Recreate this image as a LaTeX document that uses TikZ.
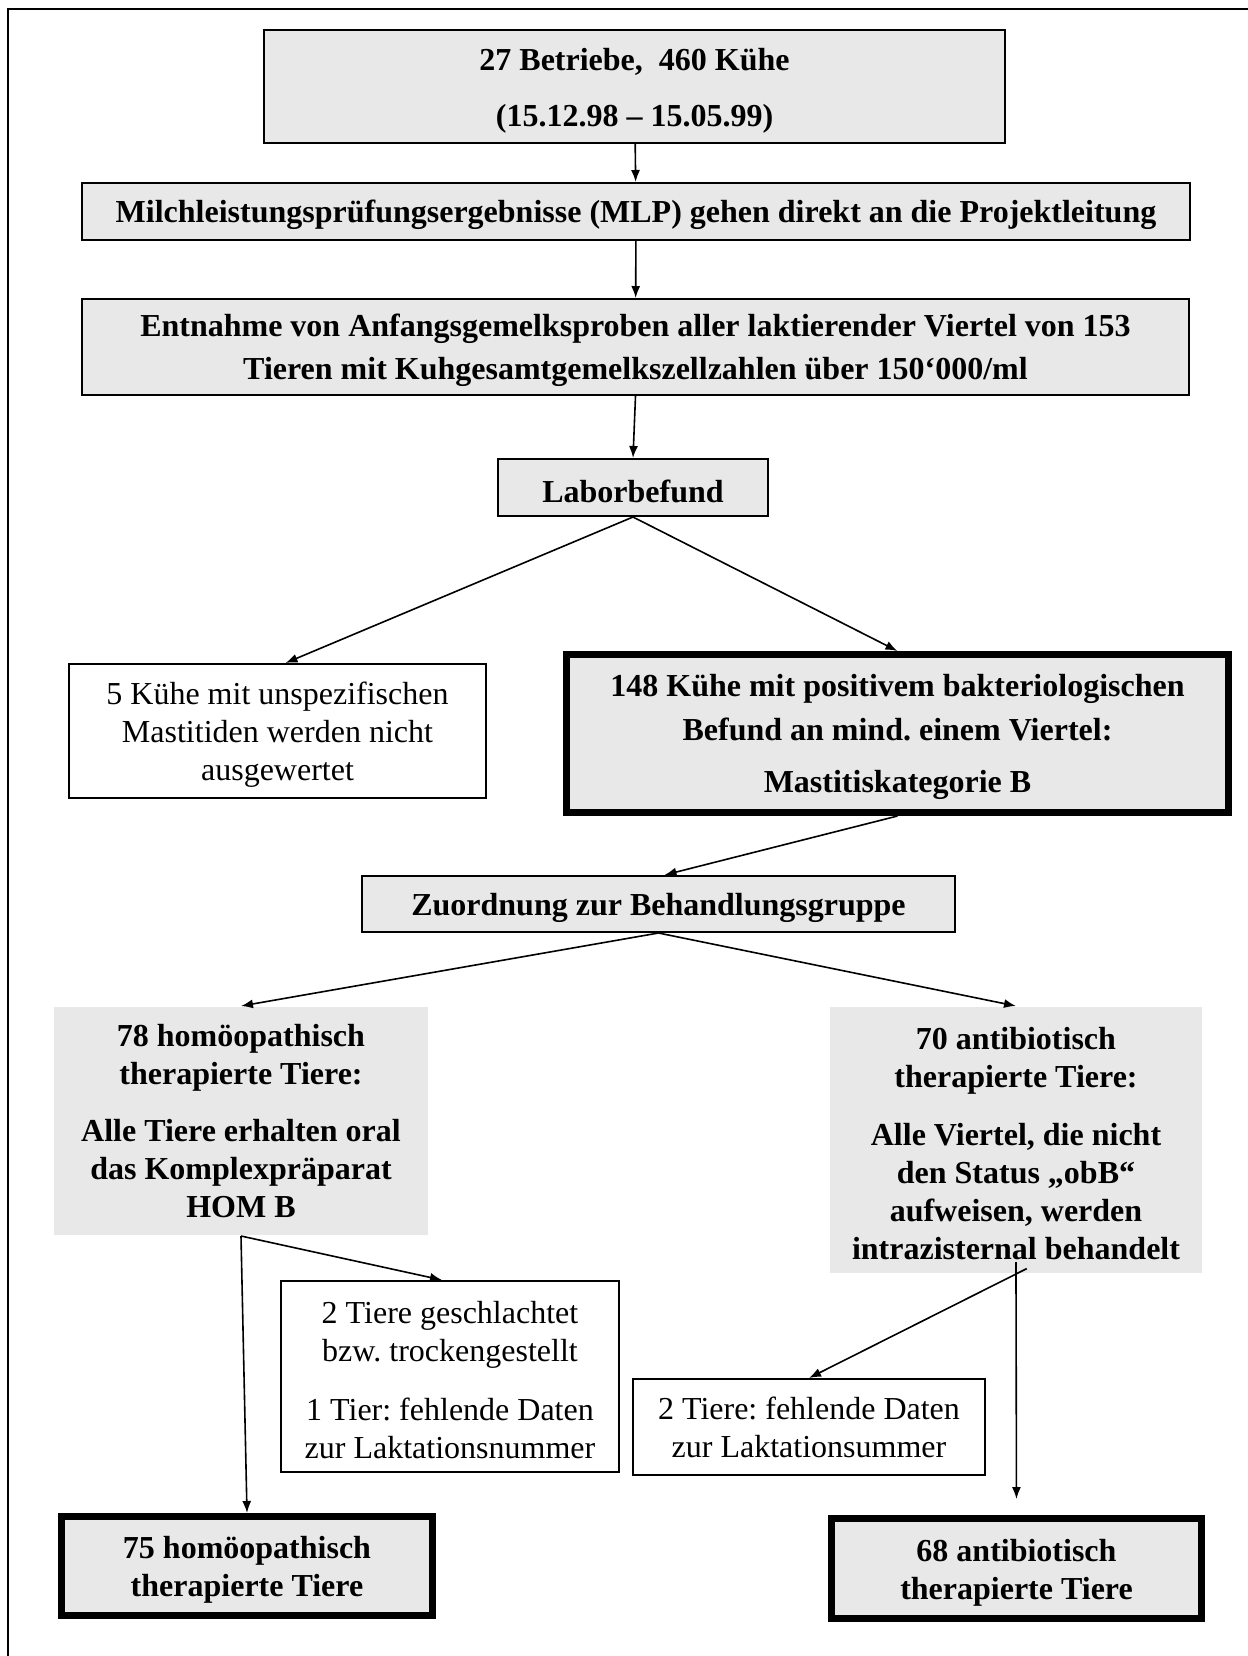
\documentclass[tikz,border=0pt]{standalone}
\usepackage{fontspec}
\setmainfont{Liberation Serif}
\usetikzlibrary{arrows.meta, positioning}
\definecolor{boxgrau}{RGB}{232,232,232}
\newcommand{\hoch}{\rule{0pt}{15pt}}
\frenchspacing

\begin{document}
\begin{tikzpicture}[x=0.5pt, y=-0.5pt, >={Latex[length=6pt,width=4.5pt]}, line join=miter,
    box/.style={draw, line width=1pt, inner sep=0pt, align=center, font=\fontsize{16}{19}\selectfont},
    graubox/.style={box, fill=boxgrau, font=\fontsize{16}{19}\selectfont\bfseries},
    weissbox/.style={box, fill=white},
    dickbox/.style={graubox, line width=3.5pt},
    flaeche/.style={graubox, draw=none},
    pfeil/.style={->, line width=0.8pt}]
    \useasboundingbox (0,0) rectangle (1248,1656);
    % Rahmen
    \draw[line width=1.15pt] (8,1656) -- (8,9) -- (1248,9);

    \node[graubox, minimum width=370.5pt, minimum height=56.5pt] (betriebe) at (634.5,86.5)
        {\hoch 27 Betriebe,\ \ 460 Kühe\\[9pt](15.12.98 – 15.05.99)};
    \node[graubox, minimum width=554pt, minimum height=28.5pt] (mlp) at (636,211.5)
        {\hoch Milchleistungsprüfungsergebnisse (MLP) gehen direkt an die Projektleitung};
    \node[graubox, minimum width=553.5pt, minimum height=48pt] (entnahme) at (635.5,347)
        {\hoch Entnahme von Anfangsgemelksproben aller laktierender Viertel von 153\\[2.5pt]
         Tieren mit Kuhgesamtgemelkszellzahlen über 150‘000/ml};
    \node[graubox, minimum width=135pt, minimum height=28.5pt] (labor) at (633,487.5) {\hoch Laborbefund};

    \node[weissbox, minimum width=208.5pt, minimum height=67pt] (kuehe5) at (277.5,731)
        {\hoch 5 Kühe mit unspezifischen\\Mastitiden werden nicht\\ausgewertet};
    \node[dickbox, minimum width=331pt, minimum height=79pt] (kuehe148) at (897.5,733.5)
        {\hoch 148 Kühe mit positivem bakteriologischen\\[3pt]Befund an mind. einem Viertel:\\[7pt]
         Mastitiskategorie B};
    \node[graubox, minimum width=296.5pt, minimum height=28pt] (zuordnung) at (658.5,904)
        {\hoch Zuordnung zur Behandlungsgruppe};

    % Behandlungsgruppen
    \node[flaeche, minimum width=187pt, minimum height=114pt] (homoeo78) at (241,1121)
        {78 homöopathisch\\therapierte Tiere:\\[9.5pt]Alle Tiere erhalten oral\\
         das Komplexpräparat\\HOM B};
    \node[flaeche, minimum width=186pt, minimum height=133pt] (anti70) at (1016,1140)
        {\hoch 70 antibiotisch\\therapierte Tiere:\\[10pt]Alle Viertel, die nicht\\
         den Status „obB“\\aufweisen, werden\\intrazisternal behandelt};

    \node[weissbox, minimum width=169pt, minimum height=95.5pt] (geschl) at (450,1376.5)
        {\hoch 2 Tiere geschlachtet\\bzw. trockengestellt\\[10.5pt]1 Tier: fehlende Daten\\
         zur Laktationsnummer};
    \node[weissbox, minimum width=176pt, minimum height=48pt] (fehlend) at (809,1427)
        {2 Tiere: fehlende Daten\\zur Laktationsummer};

    \node[dickbox, minimum width=185.5pt, minimum height=49.5pt] (homoeo75) at (247,1566)
        {\hoch 75 homöopathisch\\therapierte Tiere};
    \node[dickbox, minimum width=185pt, minimum height=50pt] (anti68) at (1016.5,1568.5)
        {\hoch 68 antibiotisch\\therapierte Tiere};

    \draw[pfeil] (betriebe) -- (mlp);
    \draw[pfeil] (mlp) -- (entnahme);
    \draw[pfeil] (entnahme.south) -- (labor.north);
    \draw[pfeil] (labor.south) -- ([xshift=4pt]kuehe5.north);
    \draw[pfeil] (labor.south) -- (kuehe148.north);
    \draw[pfeil] (kuehe148.south) -- ([xshift=3pt]zuordnung.north);
    \draw[pfeil] (zuordnung.south) -- (homoeo78.north);
    \draw[pfeil] (zuordnung.south) -- (anti70.north);
    \draw[pfeil] (homoeo78.south) -- ([xshift=-4pt]geschl.north);
    \draw[pfeil] (homoeo78.south) -- (homoeo75.north);
    \draw[pfeil, shorten <=-6pt] (anti70.south) -- (fehlend.north);
    \draw[pfeil, shorten <=-6pt, shorten >=8pt] (anti70.south) -- (anti68.north);
\end{tikzpicture}
\end{document}
